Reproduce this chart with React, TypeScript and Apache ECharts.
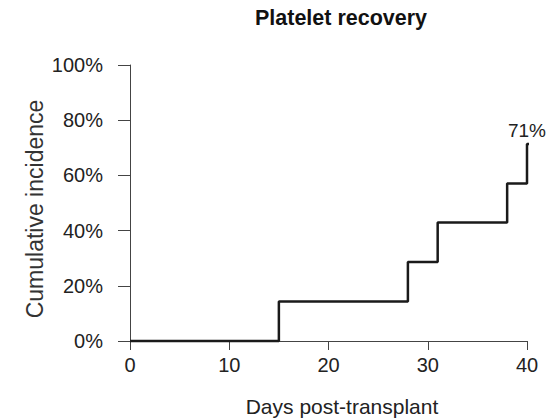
import React, { useEffect, useRef } from "react";
import * as echarts from "echarts";

const days = [0, 15, 28, 31, 38, 40, 40.5];
const incidence = [0, 0.143, 0.286, 0.429, 0.571, 0.714, 0.714];
const xTicks = [0, 10, 20, 30, 40];
const yTicks = [0, 0.2, 0.4, 0.6, 0.8, 1.0];
const endLabel = "71%";
const labelIndex = 5;

const FONT = "Liberation Sans, Arial, sans-serif";

export default function App() {
  const ref = useRef<HTMLDivElement>(null);
  useEffect(() => {
    document.body.style.margin = "0";
    if (!ref.current) return;
    const chart = echarts.init(ref.current, null, { renderer: "svg" });
    const data = days.map((d, i) =>
      i === labelIndex
        ? {
            value: [d, incidence[i]],
            label: {
              show: true,
              position: "top",
              distance: 4,
              formatter: endLabel,
              fontFamily: FONT,
              fontSize: 19,
              color: "#222",
            },
          }
        : { value: [d, incidence[i]] }
    );
    chart.setOption({
      animation: false,
      backgroundColor: "#fff",
      textStyle: { fontFamily: FONT },
      grid: { left: 130, right: 22, top: 65, bottom: 79, containLabel: false },
      graphic: [
        {
          type: "text",
          x: 341,
          y: 18,
          style: {
            text: "Platelet recovery",
            align: "center",
            verticalAlign: "middle",
            fontSize: 21.5,
            fontWeight: "bold",
            fontFamily: FONT,
            fill: "#111",
          },
        },
        {
          type: "text",
          x: 342,
          y: 406,
          style: {
            text: "Days post-transplant",
            align: "center",
            verticalAlign: "middle",
            fontSize: 21,
            fontFamily: FONT,
            fill: "#222",
          },
        },
        {
          type: "text",
          x: 35,
          y: 209,
          rotation: Math.PI / 2,
          style: {
            text: "Cumulative incidence",
            align: "center",
            verticalAlign: "middle",
            fontSize: 23,
            fontFamily: FONT,
            fill: "#333",
          },
        },
      ],
      xAxis: {
        type: "value",
        min: xTicks[0],
        max: xTicks[xTicks.length - 1],
        interval: 10,
        splitLine: { show: false },
        axisLine: { show: true, onZero: false, lineStyle: { color: "#444", width: 1 } },
        axisTick: { show: true, inside: false, length: 9, lineStyle: { color: "#444", width: 1 } },
        axisLabel: { margin: 14, fontSize: 20, color: "#222", fontFamily: FONT },
      },
      yAxis: {
        type: "value",
        min: yTicks[0],
        max: yTicks[yTicks.length - 1],
        interval: 0.2,
        splitLine: { show: false },
        axisLine: { show: true, onZero: false, lineStyle: { color: "#444", width: 1 } },
        axisTick: { show: true, inside: false, length: 12, lineStyle: { color: "#444", width: 1 } },
        axisLabel: {
          margin: 27,
          fontSize: 20,
          color: "#222",
          fontFamily: FONT,
          formatter: (v: number) => Math.round(v * 100) + "%",
        },
      },
      series: [
        {
          type: "line",
          step: "end",
          clip: false,
          symbol: "circle",
          symbolSize: 0,
          showSymbol: true,
          lineStyle: { color: "#1a1a1a", width: 2.5 },
          itemStyle: { color: "#1a1a1a" },
          data,
        },
      ],
    });
    return () => chart.dispose();
  }, []);
  return <div ref={ref} style={{ width: 549, height: 420 }} />;
}
